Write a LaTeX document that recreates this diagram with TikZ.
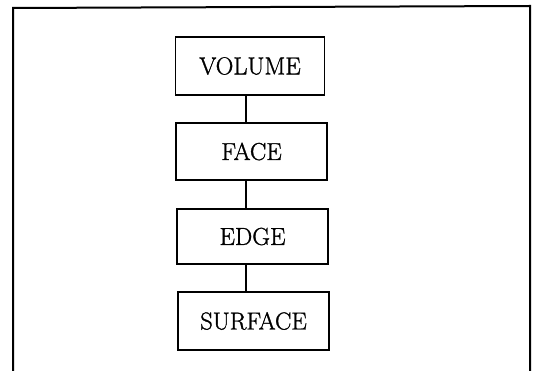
\documentclass[tikz,border=0pt]{standalone}
\usepackage{fontspec}
\newfontfamily\lblfont[FakeBold=1.2]{Latin Modern Roman}
\begin{document}
\begin{tikzpicture}[x=1pt,y=-1pt,
  lbox/.style={draw,line width=1.8pt,minimum width=151pt,minimum height=57pt,inner sep=0pt,font=\lblfont\fontsize{24.5}{29}\selectfont},
  link/.style={line width=1.6pt},
  frame/.style={line width=2pt}]
\useasboundingbox (0,0) rectangle (538,371);
\clip (0,0) rectangle (538,371);
\coordinate (fbl) at (13,380);
\coordinate (ftl) at (13,8);
\coordinate (ftr) at (530,6);
\coordinate (fbr) at (530,380);
\draw[frame] (fbl) -- (ftl) -- (ftr) -- (fbr);
\node[lbox,minimum width=149pt,minimum height=58pt] (volume) at (250,66) {VOLUME};
\node[lbox,minimum height=57pt] (face) at (251.5,151.5) {FACE};
\node[lbox,minimum height=55pt] (edge) at (252.5,236.5) {EDGE};
\node[lbox,minimum height=58pt] (surface) at (253.5,321) {SURFACE};
\coordinate (cx) at (246,0);
\draw[link] (volume.south -| cx) -- (face.north -| cx);
\draw[link] (face.south -| cx) -- (edge.north -| cx);
\draw[link] (edge.south -| cx) -- (surface.north -| cx);
\end{tikzpicture}
\end{document}
